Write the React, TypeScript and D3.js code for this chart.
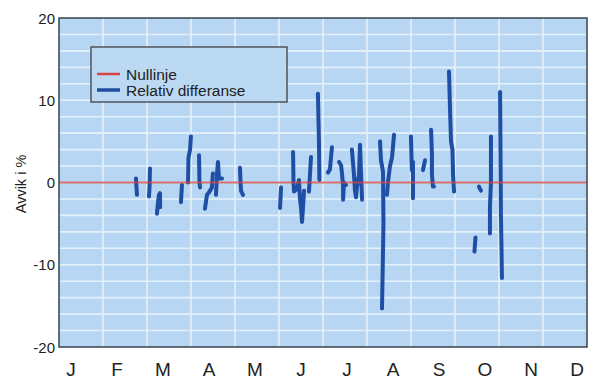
import React from "react";
import * as d3 from "d3";

// Month labels along the x axis
const months = ["J", "F", "M", "A", "M", "J", "J", "A", "S", "O", "N", "D"];
const monthKeys = months.map((m, i) => `${m}${i}`);

// Y axis ticks (percent)
const yTicks = [20, 10, 0, -10, -20];

// Relative difference, day of year vs deviation in %, split into observed runs
const runA: [number, number][] = [[53.2, 0.5], [53.9, -1.5]];
const runB: [number, number][] = [[62.9, 1.7], [62.6, -0.5], [62.2, -1.7]];
const runC: [number, number][] = [[67.7, -3.8], [68.4, -2.5], [69.1, -1.5], [69.8, -1.3], [69.9, -3.0]];
const runD: [number, number][] = [[85.0, -0.3], [84.3, -2.4]];
const runE: [number, number][] = [[89.2, 0.0], [89.5, 3.0], [90.6, 4.0], [91.2, 5.6]];
const runF: [number, number][] = [[96.8, 3.3], [97.1, 0.0], [97.5, -0.6]];
const runG: [number, number][] = [[100.9, -3.2], [102.3, -1.5], [103.7, -1.2], [105.7, -0.6], [106.4, 1.1]];
const runG2: [number, number][] = [[108.5, -1.5], [109.2, 1.0], [109.9, 2.5], [110.6, 0.5], [112.7, 0.5]];
const runH: [number, number][] = [[125.1, 1.8], [125.5, 0.0], [125.8, -1.0], [127.2, -1.5]];
const runI: [number, number][] = [[153.5, -0.6], [152.8, -3.1]];
const runJ: [number, number][] = [[161.8, 3.7], [162.1, 0.0], [162.5, -1.1], [164.5, -0.8], [165.9, 0.3], [166.6, -2.0], [167.3, -3.0], [168.0, -4.8], [168.7, -3.0], [169.4, -1.0]];
const runL: [number, number][] = [[172.8, -1.1], [173.5, 1.0], [174.2, 3.1]];
const runM: [number, number][] = [[179.0, 10.8], [179.7, 5.0], [180.0, 0.3]];
const runN: [number, number][] = [[185.9, 1.2], [187.3, 1.6], [188.0, 3.0], [188.7, 4.3]];
const runO: [number, number][] = [[193.6, 2.5], [195.0, 2.1], [195.7, 1.0], [196.4, -0.5], [196.4, -2.1], [197.0, 0.0], [198.4, -0.3]];
const runP: [number, number][] = [[202.5, 4.0], [203.9, 1.0], [204.6, -1.0], [205.3, -1.8], [206.0, -0.5], [207.4, 1.0], [208.1, 4.6], [208.8, 1.0], [209.5, -2.1]];
const runR: [number, number][] = [[221.9, 5.0], [222.6, 2.7], [224.0, 1.3], [224.3, -5.0], [223.3, -15.3]];
const runS: [number, number][] = [[226.7, -1.5], [227.4, 0.0], [228.8, 2.0], [230.2, 3.0], [231.6, 5.8]];
const runT: [number, number][] = [[243.3, 5.6], [243.7, 3.0], [244.0, 1.5], [244.7, 2.5], [244.7, -1.9]];
const runU: [number, number][] = [[251.6, 1.5], [253.0, 2.7]];
const runV: [number, number][] = [[257.2, 6.4], [257.8, 3.5], [257.8, 1.0], [258.5, -0.5], [259.2, -0.5]];
const runW: [number, number][] = [[269.6, 13.5], [270.3, 9.0], [271.0, 5.0], [272.0, 4.0], [272.4, 1.0], [273.1, -1.1]];
const runX: [number, number][] = [[290.3, -0.5], [291.7, -1.0]];
const runY: [number, number][] = [[287.9, -6.7], [287.2, -8.4]];
const runZ: [number, number][] = [[298.6, 5.6], [298.6, 0.0], [297.9, -3.0], [297.9, -6.2]];
const runAA: [number, number][] = [[304.9, 11.0], [305.2, 4.0], [305.5, -4.0], [305.9, -8.0], [306.2, -11.6]];

const runs = [runA, runB, runC, runD, runE, runF, runG, runG2, runH, runI, runJ, runL, runM, runN, runO, runP, runR, runS, runT, runU, runV, runW, runX, runY, runZ, runAA];

const W = 593;
const H = 380;
const left = 59;
const right = 587;
const top = 18;
const bottom = 347;

export default function App() {
  const x = d3.scaleLinear().domain([0, 365]).range([left, right]);
  const y = d3.scaleLinear().domain([-20, 20]).range([bottom, top]);
  const monthX = d3.scalePoint<string>().domain(monthKeys).range([71, 577]);
  const line = d3
    .line<[number, number]>()
    .x((d) => x(d[0]))
    .y((d) => y(d[1]))
    .curve(d3.curveLinear);

  const hGrid = d3.range(-18, 20, 2);
  const vGrid = d3.range(1, 12).map((i) => left + ((right - left) * i) / 12);

  return (
    <svg
      width={W}
      height={H}
      style={{ position: "absolute", left: 0, top: 0, background: "#ffffff" }}
      fontFamily="'Liberation Sans', Arial, sans-serif"
    >
      <rect x={left} y={top} width={right - left} height={bottom - top} fill="#b7d6f3" />
      {hGrid.map((v) => (
        <line key={`h${v}`} x1={left} x2={right} y1={y(v)} y2={y(v)} stroke="#e4f1fb" strokeWidth={1.6} />
      ))}
      {vGrid.map((gx, i) => (
        <line key={`v${i}`} x1={gx} x2={gx} y1={top} y2={bottom} stroke="#e4f1fb" strokeWidth={1.6} />
      ))}

      {runs.map((r, i) => (
        <path
          key={`r${i}`}
          d={line(r) ?? ""}
          fill="none"
          stroke="#1f4ea5"
          strokeWidth={4}
          strokeLinecap="round"
          strokeLinejoin="round"
        />
      ))}

      <line x1={left} x2={right} y1={y(0)} y2={y(0)} stroke="#d4463f" strokeWidth={1.8} strokeOpacity={0.75} />

      <rect x={left} y={top} width={right - left} height={bottom - top} fill="none" stroke="#34444e" strokeWidth={1.5} />

      {yTicks.map((t) => (
        <text key={`t${t}`} x={55} y={y(t) + 5.5} textAnchor="end" fontSize={15} fill="#222">
          {t}
        </text>
      ))}

      <text
        transform={`translate(26,184) rotate(-90)`}
        textAnchor="middle"
        fontSize={14.5}
        fill="#222"
      >
        Avvik i %
      </text>

      {monthKeys.map((k, i) => (
        <text key={k} x={monthX(k)} y={376} textAnchor="middle" fontSize={19} fill="#222">
          {months[i]}
        </text>
      ))}

      <g>
        <rect x={91} y={47} width={196} height={55} fill="#bcd9f4" stroke="#333" strokeWidth={1.2} />
        <line x1={97} x2={120} y1={74} y2={74} stroke="#d4463f" strokeWidth={2.5} />
        <line x1={97} x2={120} y1={90} y2={90} stroke="#1f4ea5" strokeWidth={3.5} />
        <text x={126} y={79.5} fontSize={15.5} fill="#222">Nullinje</text>
        <text x={126} y={95.5} fontSize={15.5} fill="#222">Relativ differanse</text>
      </g>
    </svg>
  );
}
